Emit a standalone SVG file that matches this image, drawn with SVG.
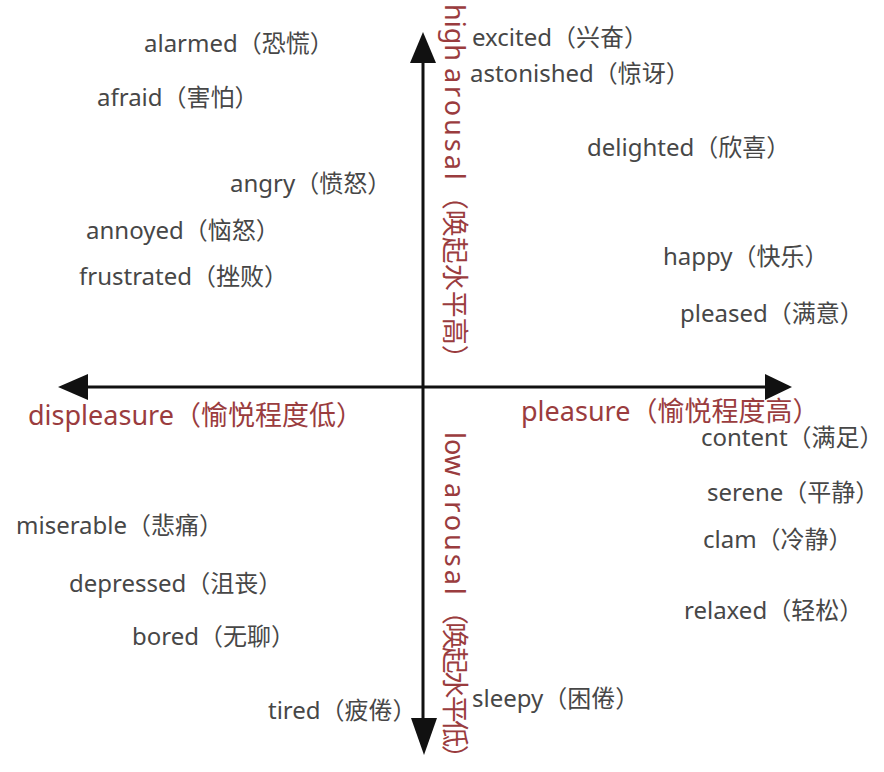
<svg xmlns="http://www.w3.org/2000/svg" width="884" height="772" viewBox="0 0 884 772">
<style>
  text { font-family: 'Noto Sans', 'Noto Sans CJK SC', sans-serif; }
  .lbl { font-size: 24px; fill: #474747; }
  .axis { font-size: 27px; fill: #9a3c3e; }
  .wide { letter-spacing: 3px; }
  .tight { letter-spacing: -2.5px; }
  .ax { stroke: #111; stroke-width: 3; fill: none; }
  .head { fill: #111; }
</style>
<rect width="884" height="772" fill="#ffffff"/>
<g id="connectors">
  <line class="ax" x1="423" y1="62" x2="423" y2="720"/>
  <line class="ax" x1="86" y1="387" x2="767" y2="387"/>
  <polygon class="head" points="423,32 410,63 436,63"/>
  <polygon class="head" points="424,755 411,718 437,718"/>
  <polygon class="head" points="58,387 88,374 88,400"/>
  <polygon class="head" points="792,387 765,374 765,400"/>
</g>
<g id="axis-high"><text class="axis" transform="translate(445,4) rotate(90)">high <tspan class="wide">arousal</tspan>（唤起水平高）</text></g>
<g id="axis-low"><text class="axis" transform="translate(445,432) rotate(90)">low <tspan class="wide">arousal</tspan><tspan class="tight">（唤起水平低）</tspan></text></g>
<g id="axis-displeasure"><text class="axis" x="28" y="425">displeasure（愉悦程度低）</text></g>
<g id="axis-pleasure"><text class="axis" x="521" y="421">pleasure（愉悦程度高）</text></g>
<g id="alarmed"><text class="lbl" x="144" y="52">alarmed（恐慌）</text></g>
<g id="afraid"><text class="lbl" x="97" y="106">afraid（害怕）</text></g>
<g id="angry"><text class="lbl" x="230" y="192">angry（愤怒）</text></g>
<g id="annoyed"><text class="lbl" x="86" y="239">annoyed（恼怒）</text></g>
<g id="frustrated"><text class="lbl" x="79" y="285">frustrated（挫败）</text></g>
<g id="excited"><text class="lbl" x="472" y="46">excited（兴奋）</text></g>
<g id="astonished"><text class="lbl" x="470" y="82">astonished（惊讶）</text></g>
<g id="delighted"><text class="lbl" x="587" y="156">delighted（欣喜）</text></g>
<g id="happy"><text class="lbl" x="663" y="265">happy（快乐）</text></g>
<g id="pleased"><text class="lbl" x="680" y="322">pleased（满意）</text></g>
<g id="content"><text class="lbl" x="701" y="446">content（满足）</text></g>
<g id="serene"><text class="lbl" x="707" y="501">serene（平静）</text></g>
<g id="clam"><text class="lbl" x="703" y="548">clam（冷静）</text></g>
<g id="relaxed"><text class="lbl" x="684" y="619">relaxed（轻松）</text></g>
<g id="sleepy"><text class="lbl" x="472" y="707">sleepy（困倦）</text></g>
<g id="miserable"><text class="lbl" x="16" y="534">miserable（悲痛）</text></g>
<g id="depressed"><text class="lbl" x="69" y="592">depressed（沮丧）</text></g>
<g id="bored"><text class="lbl" x="132" y="645">bored（无聊）</text></g>
<g id="tired"><text class="lbl" x="268" y="719">tired（疲倦）</text></g>
</svg>
